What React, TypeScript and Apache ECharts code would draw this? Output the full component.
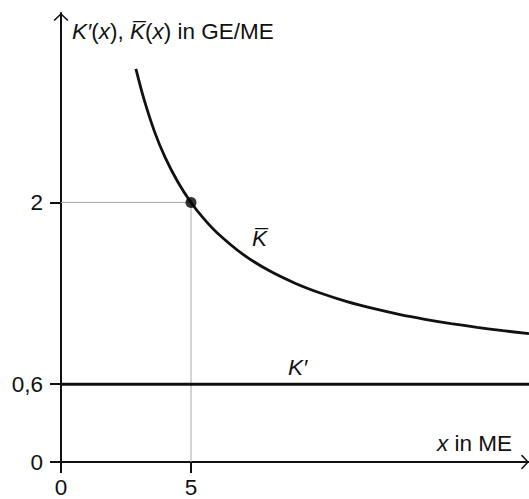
import React, { useEffect, useRef } from "react";
import * as echarts from "echarts";

// Average cost curve K̄(x)
const avgCostX = [2.88, 3.2, 3.6, 4, 4.5, 5, 5.5, 6, 7, 8, 9, 10, 11, 12, 13, 14, 15, 16, 17, 18];
const avgCostY = [3.03, 2.79, 2.544, 2.35, 2.156, 2.0, 1.873, 1.767, 1.6, 1.475, 1.378, 1.3, 1.236, 1.183, 1.138, 1.1, 1.067, 1.038, 1.012, 0.989];
// Marginal cost K'(x) (constant)
const marginalX = [0, 18];
const marginalY = [0.6, 0.6];
// Highlighted point
const pointX = [5];
const pointY = [2];
// Tick values
const xTickValues = [0, 5];
const yTickValues = [0, 0.6, 2];
// Axis ranges
const xMin = 0;
const xMax = 18;
const yMin = 0;
const yMax = 3.46;

const FONT = "'Liberation Sans', Arial, Helvetica, sans-serif";
const INK = "#111";
const FS = 22.5;
const ARROW = "path://M7.5,0 L15,7 L13.8,8 L7.5,2 L1.2,8 L0,7 Z";

export default function App() {
  const ref = useRef<HTMLDivElement>(null);
  useEffect(() => {
    if (!ref.current) return;
    const chart = echarts.init(ref.current, undefined, { renderer: "svg" });
    const rich = { i: { fontStyle: "italic", fontFamily: FONT, fontSize: FS, fill: INK } };
    const axisLine = {
      show: true,
      onZero: false,
      lineStyle: { color: INK, width: 2 },
      symbol: ["none", ARROW],
      symbolSize: [15, 8],
      symbolOffset: [0, -4],
    };
    chart.setOption({
      animation: false,
      grid: { left: 61, right: 0, top: 13, bottom: 36, containLabel: false },
      xAxis: {
        type: "value",
        min: xMin,
        max: xMax,
        splitLine: { show: false },
        axisLine,
        axisTick: { show: true, customValues: xTickValues, length: 11, lineStyle: { color: INK, width: 2 } },
        axisLabel: {
          customValues: xTickValues,
          margin: 14,
          fontSize: FS,
          fontFamily: FONT,
          color: INK,
        },
      },
      yAxis: {
        type: "value",
        min: yMin,
        max: yMax,
        splitLine: { show: false },
        axisLine,
        axisTick: { show: true, customValues: yTickValues, length: 11, lineStyle: { color: INK, width: 2 } },
        axisLabel: {
          customValues: yTickValues,
          margin: 18,
          fontSize: FS,
          fontFamily: FONT,
          color: INK,
          formatter: (v: number) => String(v).replace(".", ","),
        },
      },
      graphic: [
        {
          type: "text",
          left: 72,
          top: 20,
          style: {
            text: "{i|K′}({i|x}), {i|K\u0305}({i|x}) in GE/ME",
            rich,
            fontSize: FS,
            fontFamily: FONT,
            fill: INK,
          },
        },
        {
          type: "text",
          left: 252,
          top: 227,
          style: { text: "{i|K\u0305}", rich, fontSize: FS, fontFamily: FONT, fill: INK },
        },
        {
          type: "text",
          left: 288,
          top: 356,
          style: { text: "{i|K′}", rich, fontSize: FS, fontFamily: FONT, fill: INK },
        },
        {
          type: "text",
          left: 437,
          top: 432,
          style: { text: "{i|x} in ME", rich, fontSize: FS, fontFamily: FONT, fill: INK },
        },
      ],
      series: [
        {
          type: "line",
          data: [
            [0, pointY[0]],
            [pointX[0], pointY[0]],
            [pointX[0], 0],
          ],
          symbol: "none",
          lineStyle: { color: "#a8a8a8", width: 1 },
          silent: true,
          z: 1,
        },
        {
          type: "line",
          data: marginalX.map((x, i) => [x, marginalY[i]]),
          symbol: "none",
          lineStyle: { color: INK, width: 3 },
          z: 2,
        },
        {
          type: "line",
          data: avgCostX.map((x, i) => [x, avgCostY[i]]),
          symbol: "none",
          smooth: 0.3,
          clip: false,
          lineStyle: { color: INK, width: 2.8 },
          z: 3,
        },
        {
          type: "scatter",
          data: pointX.map((x, i) => [x, pointY[i]]),
          symbol: "circle",
          symbolSize: 11,
          itemStyle: { color: "#000" },
          z: 4,
        },
      ],
    });
    return () => chart.dispose();
  }, []);
  return (
    <div
      ref={ref}
      style={{ position: "fixed", left: 0, top: 0, width: 529, height: 499, background: "#fff" }}
    />
  );
}
